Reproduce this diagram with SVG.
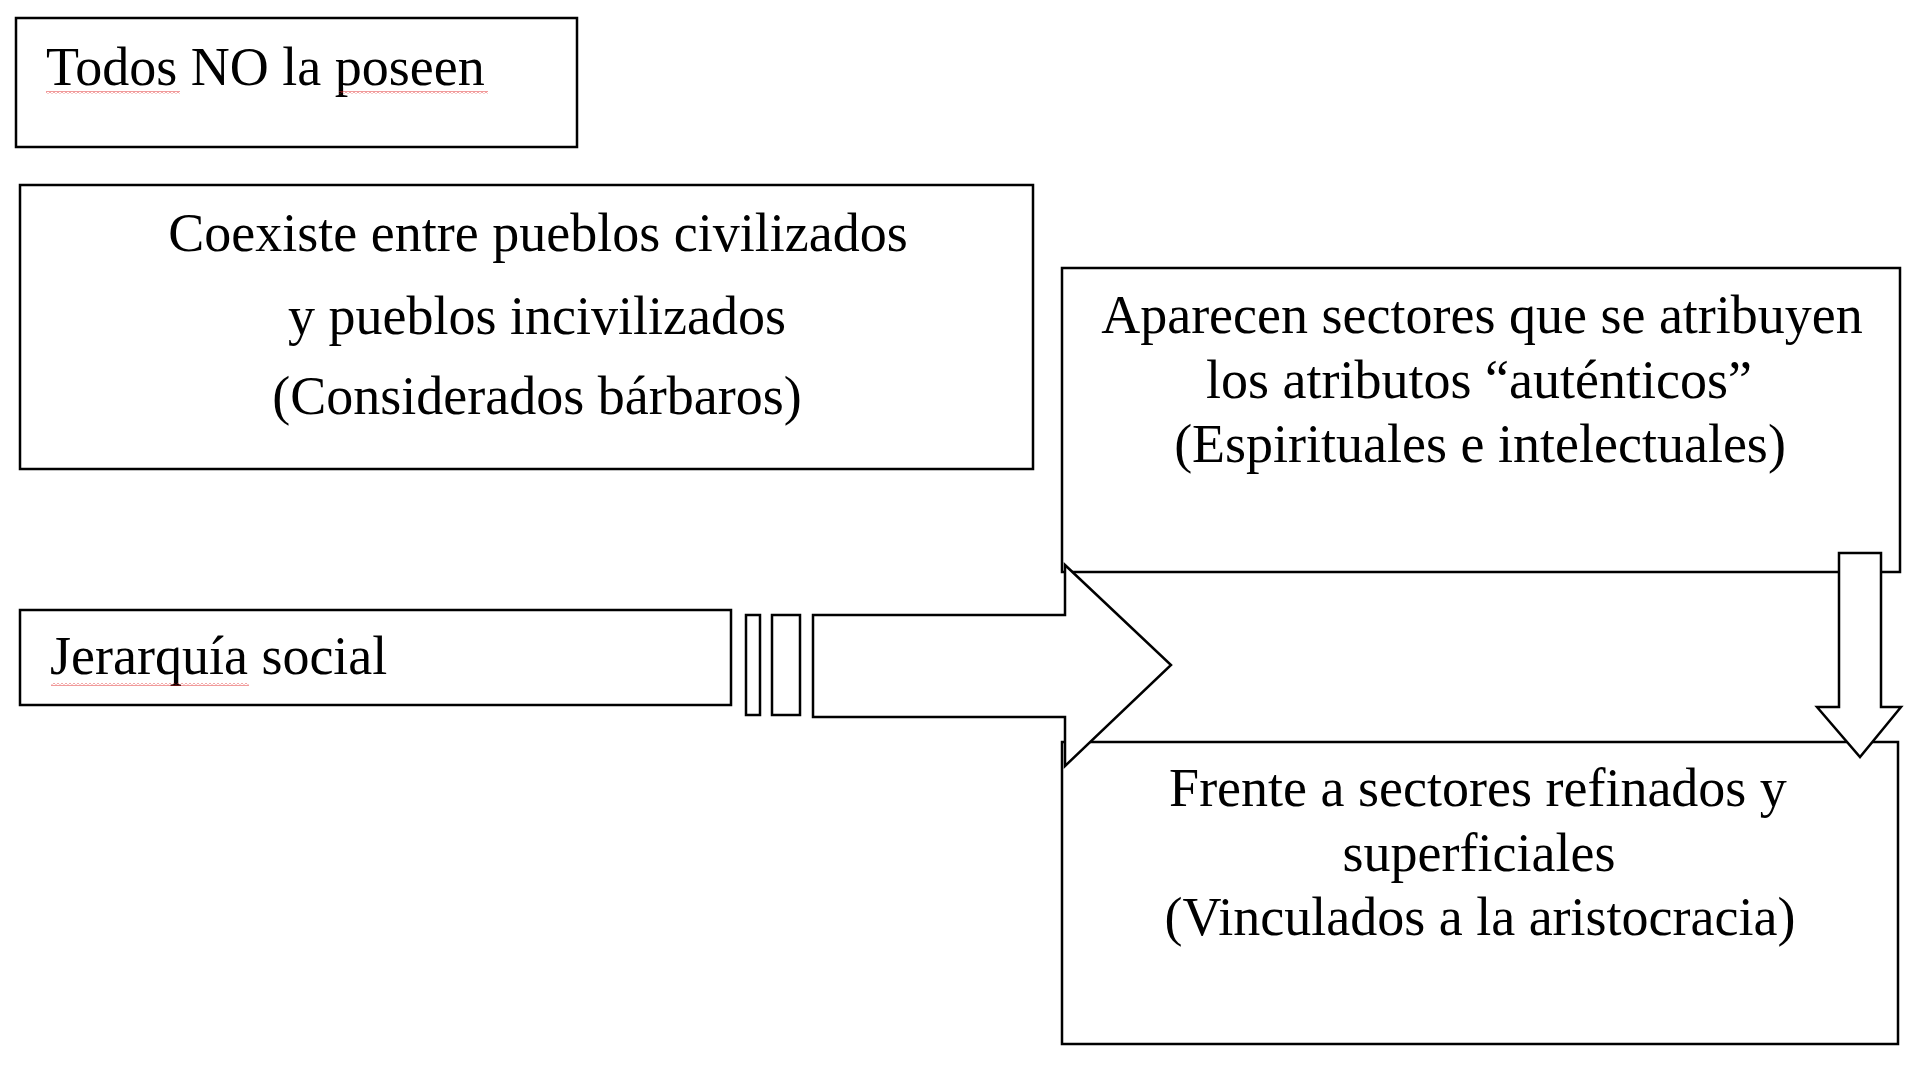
<svg xmlns="http://www.w3.org/2000/svg" width="1920" height="1078" viewBox="0 0 1920 1078">
<style>
.box{fill:#fff;stroke:#000;stroke-width:2.5}
.arr{fill:#fff;stroke:#000;stroke-width:2.5;stroke-linejoin:miter}
.t{font-family:"Liberation Serif","Times New Roman",serif;font-size:54px;fill:#000}
.c{text-anchor:middle}
</style>
<defs>
<pattern id="sq" width="4" height="3" patternUnits="userSpaceOnUse">
<polyline points="0,0.5 2,2.5 4,0.5" fill="none" stroke="#e02020" stroke-width="0.9"/>
</pattern>
</defs>
<rect width="1920" height="1078" fill="#fff"/>
<g id="todos">
<rect class="box" x="16" y="18" width="561" height="129"/>
<text class="t" x="46" y="85">Todos NO la poseen</text>
<rect x="46" y="91" width="134" height="3" fill="url(#sq)"/>
<rect x="339" y="91" width="149" height="3" fill="url(#sq)"/>
</g>
<g id="coexiste">
<rect class="box" x="20" y="185" width="1013" height="284"/>
<text class="t c" x="538" y="251">Coexiste entre pueblos civilizados</text>
<text class="t c" x="537" y="334">y pueblos incivilizados</text>
<text class="t c" x="537" y="414">(Considerados bárbaros)</text>
</g>
<g id="aparecen">
<rect class="box" x="1062" y="268" width="838" height="304"/>
<text class="t c" x="1482" y="333">Aparecen sectores que se atribuyen</text>
<text class="t c" x="1479" y="398">los atributos “auténticos”</text>
<text class="t c" x="1480" y="462">(Espirituales e intelectuales)</text>
</g>
<g id="frente">
<rect class="box" x="1062" y="742" width="836" height="302"/>
<text class="t c" x="1478" y="806">Frente a sectores refinados y</text>
<text class="t c" x="1479" y="871">superficiales</text>
<text class="t c" x="1480" y="935">(Vinculados a la aristocracia)</text>
</g>
<g id="jerarquia">
<rect class="box" x="20" y="610" width="711" height="95"/>
<text class="t" x="50" y="674">Jerarquía social</text>
<rect x="51" y="683" width="198" height="3" fill="url(#sq)"/>
</g>
<g id="connectors">
<rect class="arr" x="746" y="615" width="14" height="100"/>
<rect class="arr" x="772" y="615" width="28" height="100"/>
<polygon class="arr" points="813,615 1065,615 1065,565 1171,665 1065,766 1065,717 813,717"/>
<polygon class="arr" points="1839,553 1881,553 1881,707 1901,707 1860,757 1817,707 1839,707"/>
</g>
</svg>
